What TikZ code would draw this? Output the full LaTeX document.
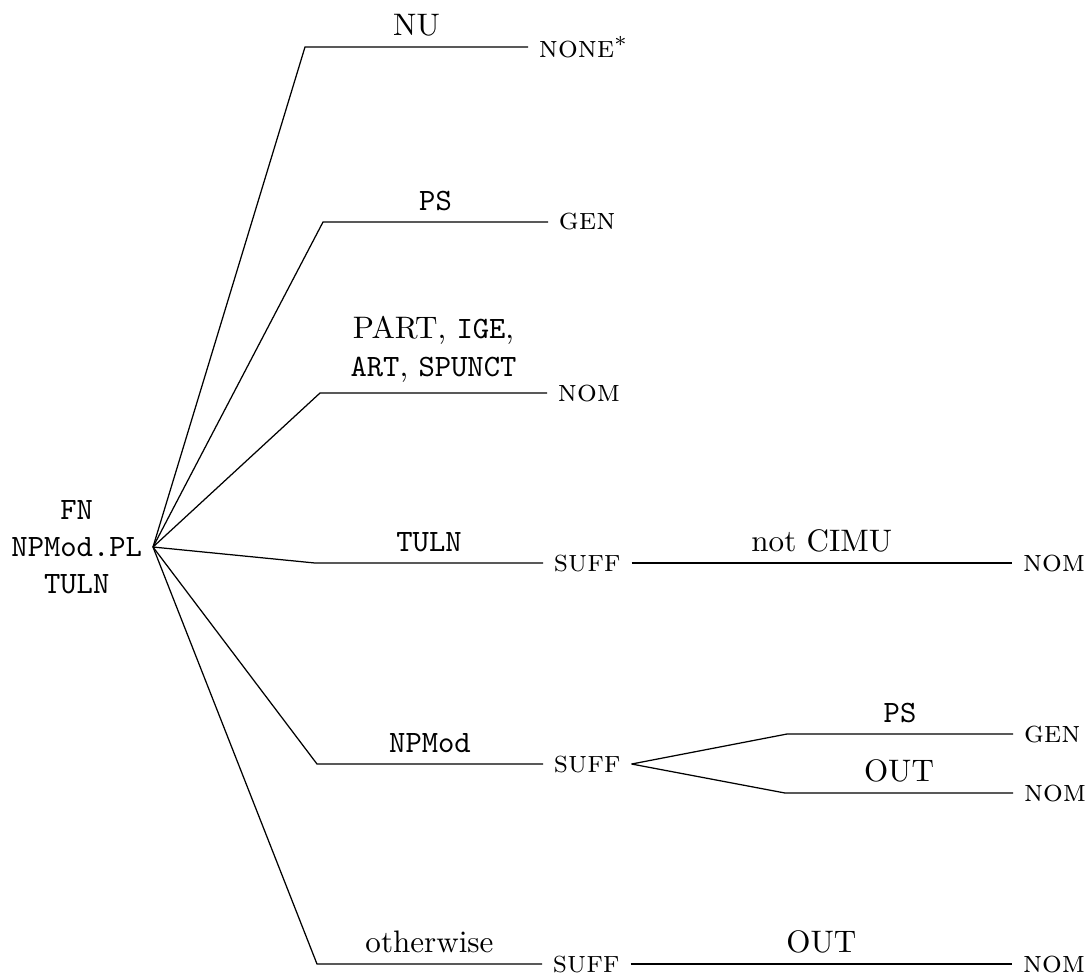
\documentclass[tikz,border=0pt]{standalone}
\usetikzlibrary{positioning}
\begin{document}
\begin{tikzpicture}[x=0.0113cm,y=-0.0113cm,
        leaf/.style={anchor=west},
        lab/.style={above},
        catnode/.style={font=\ttfamily,align=center}]
    \useasboundingbox (0,0) rectangle (1089,977);
    \node[catnode,anchor=east] (root) at (153,547) {FN\\NPMod.PL\\TULN};
    \coordinate (nu) at (305,47);
    \coordinate (ps) at (323,222);
    \coordinate (part) at (320,393);
    \coordinate (tuln) at (315,563);
    \coordinate (npmod) at (317,764);
    \coordinate (other) at (317,964);
    \coordinate (npps) at (787,734);
    \coordinate (npout) at (785,793);
    \node[leaf] (none) at (528,47) {\textsc{none}$^*$};
    \node[leaf] (gen) at (548,222) {\textsc{gen}};
    \node[leaf] (nom) at (547,393) {\textsc{nom}};
    \node[leaf] (sufftuln) at (543,563) {\textsc{suff}};
    \node[leaf] (nomtuln) at (1012,563) {\textsc{nom}};
    \node[leaf] (suffnp) at (543,764) {\textsc{suff}};
    \node[leaf] (gennp) at (1013,734) {\textsc{gen}};
    \node[leaf] (nomnp) at (1013,793) {\textsc{nom}};
    \node[leaf] (suffother) at (542,964) {\textsc{suff}};
    \node[leaf] (nomother) at (1012,964) {\textsc{nom}};
    \draw (root.east) -- (nu) -- node[lab] {NU} (none.west);
    \draw (root.east) -- (ps) -- node[lab] {\texttt{PS}} (gen.west);
    \draw (root.east) -- (part) -- node[lab,align=center] {PART, \texttt{IGE},\\\texttt{ART}, \texttt{SPUNCT}} (nom.west);
    \draw (root.east) -- (tuln) -- node[lab] {\texttt{TULN}} (sufftuln.west);
    \draw (sufftuln.east) -- node[lab] {not CIMU} (nomtuln.west);
    \draw (root.east) -- (npmod) -- node[lab] {\texttt{NPMod}} (suffnp.west);
    \draw (suffnp.east) -- (npps) -- node[lab] {\texttt{PS}} (gennp.west);
    \draw (suffnp.east) -- (npout) -- node[lab] {OUT} (nomnp.west);
    \draw (root.east) -- (other) -- node[lab] {otherwise} (suffother.west);
    \draw (suffother.east) -- node[lab] {OUT} (nomother.west);
\end{tikzpicture}
\end{document}
